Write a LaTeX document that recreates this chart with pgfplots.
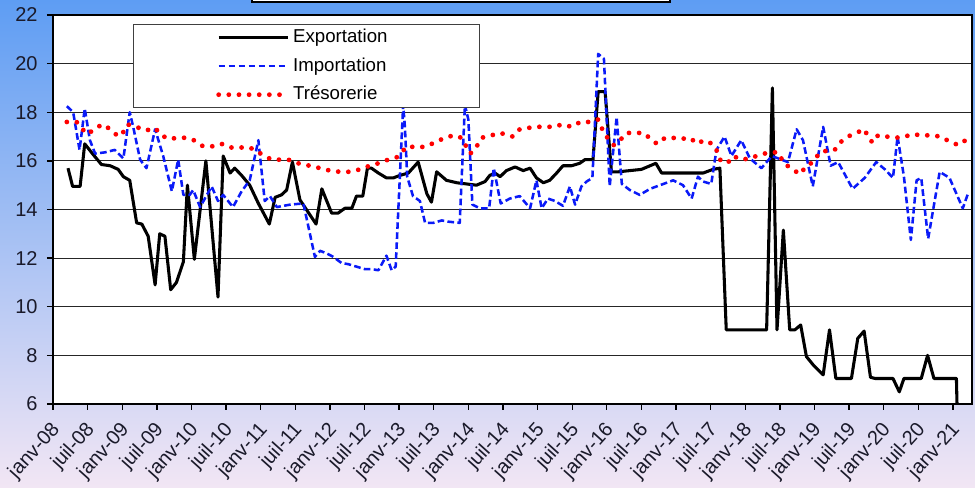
\documentclass[border=0pt]{standalone}
\usepackage{fontspec}
\setmainfont{Liberation Sans}
\usepackage{pgfplots}
\pgfplotsset{compat=1.18}
\definecolor{bgtop}{HTML}{5E9DF3}
\definecolor{bgbot}{HTML}{F2E6F4}
\definecolor{impblue}{HTML}{0A1AF8}
\definecolor{txt}{HTML}{1A1A2A}
\begin{document}
\begin{tikzpicture}
\path[use as bounding box] (0,0) rectangle (731.25pt,366pt);
\clip (0,0) rectangle (731.25pt,366pt);
\shade[top color=bgtop, bottom color=bgbot] (0,0) rectangle (731.25pt,366pt);
\draw[line width=1.5pt, fill=white] (189pt,364.5pt) rectangle (502.5pt,380pt);
\begin{axis}[
  at={(39.75pt,63pt)}, anchor=south west,
  scale only axis, width=689.25pt, height=291.75pt,
  xmin=0, xmax=159.3, ymin=6, ymax=22,
  axis background/.style={fill=white},
  axis line style={line width=1.5pt, black},
  tick pos=left, tick align=outside,
  major tick length=4.5pt,
  tick style={line width=1pt, black},
  ymajorgrids, major grid style={line width=0.9pt, black!85},
  ytick={6,8,...,22},
  xtick={0,6,...,156},
  xticklabels={janv-08,juil-08,janv-09,juil-09,janv-10,juil-10,janv-11,juil-11,janv-12,juil-12,janv-13,juil-13,janv-14,juil-14,janv-15,juil-15,janv-16,juil-16,janv-17,juil-17,janv-18,juil-18,janv-19,juil-19,janv-20,juil-20,janv-21},
  /pgf/number format/assume math mode=true,
  yticklabel style={font=\fontsize{15}{15}\selectfont, color=txt, xshift=-3.5pt},
  xticklabel style={xshift=5pt, yshift=-10pt, rotate=48, anchor=east, font=\fontsize{15}{15}\selectfont, color=txt},
  legend style={at={(rel axis cs:0.087,0.977)}, anchor=north west, draw=black!75, line width=1pt, fill=white,
    font=\fontsize{14}{14}\selectfont, inner xsep=62pt, inner ysep=3pt, row sep=7.9pt,
    nodes={inner ysep=0pt, text height=10.5pt, text depth=3pt}},
  legend cell align=left,
  legend image code/.code={\draw[#1] (0pt,0pt) -- (52pt,0pt);},
]
\addplot[black, line width=2.3pt, line join=round] coordinates {
(2.6,15.7) (3.4,14.95) (4.7,14.95) (5.5,16.7) (7,16.25) (8.4,15.85) (9.9,15.8) (11.3,15.65) (12.2,15.35) (13.3,15.2) (14.5,13.45) (15.4,13.4) (16.5,12.9) (17.7,10.9) (18.5,13.0) (19.4,12.9) (20.4,10.7) (21.4,11.0) (22.6,11.85) (23.3,15.0) (24.5,11.95) (26.5,16.0) (28.6,10.4) (29.5,16.2) (30.7,15.5) (31.5,15.7) (32.7,15.4) (34.1,15.0) (35.6,14.25) (37.5,13.4) (38.5,14.5) (39.6,14.6) (40.5,14.8) (41.5,15.95) (42.8,14.4) (44.2,13.9) (45.6,13.4) (46.6,14.85) (48.3,13.85) (49.4,13.85) (50.6,14.05) (51.8,14.05) (52.6,14.55) (53.7,14.55) (54.5,15.7) (55.2,15.7) (56.4,15.5) (57.8,15.3) (59,15.3) (60.1,15.4) (61.6,15.5) (63.3,15.95) (64.8,14.65) (65.6,14.3) (66.5,15.55) (68.2,15.2) (70,15.1) (71.7,15.05) (73.4,15.0) (74.9,15.15) (75.7,15.4) (76.6,15.5) (77.5,15.35) (78.6,15.6) (80.1,15.75) (81.5,15.6) (82.7,15.7) (83.8,15.3) (85,15.1) (86.1,15.2) (87.3,15.5) (88.4,15.8) (89.9,15.8) (91.3,15.9) (92.2,16.05) (93.6,16.05) (94.5,18.85) (95.7,18.85) (96.8,15.55) (98,15.55) (100,15.6) (102,15.65) (103.5,15.8) (104.5,15.9) (105.5,15.5) (112.7,15.5) (114.4,15.65) (115.6,15.7) (116.7,9.05) (123.7,9.05) (124.7,19.0) (125.5,9.05) (126.6,13.15) (127.7,9.05) (128.6,9.05) (129.6,9.25) (130.6,7.95) (131.8,7.6) (133.5,7.2) (134.6,9.05) (135.7,7.05) (138.4,7.05) (139.5,8.7) (140.6,9.0) (141.7,7.1) (142.5,7.05) (145.6,7.05) (146.7,6.5) (147.5,7.05) (150.5,7.05) (151.6,8.0) (152.7,7.05) (156.6,7.05) (156.7,6.0)
};
\addlegendentry{Exportation\hspace*{5pt}}
\addplot[impblue, line width=1.9pt, dash pattern=on 5pt off 2.5pt, line join=round] coordinates {
(2.4,18.25) (3.5,18.0) (4.6,16.45) (5.5,18.15) (6.4,16.85) (7.3,16.3) (9,16.35) (10.7,16.45) (12.2,16.1) (13.3,18.0) (13.9,17.4) (15.1,16.05) (16.2,15.7) (17.7,17.3) (19.1,16.2) (20.6,14.75) (21.7,16.05) (22.6,14.6) (23.7,14.6) (24.3,14.8) (25.5,14.1) (27.5,14.95) (28.6,14.35) (29.5,14.6) (31.2,14.1) (32.7,14.75) (34.1,15.2) (35.6,16.85) (36.7,14.35) (37.6,14.55) (38.8,14.1) (41.1,14.2) (43.4,14.25) (45.4,12.05) (46.3,12.3) (47.4,12.2) (48.6,12.05) (50,11.8) (51.2,11.75) (52.6,11.65) (54,11.55) (55.2,11.55) (56.4,11.5) (57.8,12.1) (58.7,11.5) (59.4,11.65) (60.7,18.3) (61,17.4) (61.4,15.35) (62.4,14.55) (63.6,14.35) (64.5,13.45) (65.9,13.45) (67.4,13.55) (68.5,13.5) (70.5,13.45) (71.4,18.3) (72,17.7) (72.7,14.2) (74,14.05) (75.6,14.05) (76.4,15.7) (77.6,14.25) (79.2,14.45) (80.9,14.55) (82.7,14.05) (83.8,15.2) (84.7,14.05) (85.8,14.45) (87,14.35) (88.4,14.15) (89.6,14.95) (90.5,14.2) (91.6,14.95) (92.5,15.15) (93.5,15.3) (94.5,20.4) (95.5,20.2) (96.5,14.95) (97.7,17.8) (98.6,15.05) (100,14.8) (101.7,14.6) (103.5,14.85) (105.8,15.05) (107.5,15.2) (109.2,15.0) (110.7,14.45) (111.8,15.35) (112.7,15.15) (114.1,15.05) (115,16.45) (116.4,17.0) (117.6,16.2) (119.3,16.85) (120.8,16.1) (122.8,15.7) (124.6,16.2) (127.4,15.95) (128.9,17.3) (130,16.85) (131.7,14.95) (133.5,17.4) (134.8,15.8) (136.1,15.95) (138.6,14.85) (140.7,15.3) (142.7,15.95) (144.2,15.65) (145.6,15.3) (146.4,17.0) (147.5,15.35) (148.7,12.75) (149.7,15.2) (150.5,15.3) (151.7,12.8) (153.7,15.55) (155.4,15.3) (157.7,14.05) (158.6,14.65)
};
\addlegendentry{Importation}
\addplot[red, line width=3.6pt, line cap=round, dash pattern=on 0pt off 7.6pt] coordinates {
(2.4,17.6) (4.1,17.6) (5.1,17.3) (6.1,17.1) (7.3,17.35) (8.7,17.5) (10.2,17.25) (11.3,17.0) (12.1,17.15) (12.9,17.5) (14.4,17.4) (16.1,17.25) (17.7,17.35) (18.8,17.05) (20.1,16.9) (21.7,16.95) (23.2,16.95) (24.4,16.85) (26,16.6) (27.7,16.6) (29.2,16.7) (30.7,16.55) (32.4,16.55) (34.1,16.55) (35.3,16.4) (36.7,16.2) (37.9,16.05) (39.3,16.05) (40.8,16.05) (42.5,15.9) (44.5,15.8) (46.3,15.7) (48,15.6) (49.7,15.55) (51.5,15.55) (53.2,15.65) (54.9,15.8) (56.4,15.9) (58.1,16.05) (59.6,16.15) (61.4,16.6) (63.3,16.55) (64.8,16.6) (66.5,16.8) (68,16.95) (69.4,17.05) (70.8,16.95) (72.3,16.3) (73.1,16.45) (74.3,16.95) (76,17.05) (77.5,17.15) (79.7,17.0) (80.9,17.3) (82.2,17.35) (83.8,17.4) (85.3,17.4) (86.8,17.4) (88.3,17.5) (89.9,17.4) (91.4,17.6) (93.1,17.6) (94.5,17.7) (95.3,17.25) (96.1,16.95) (97.2,16.65) (98.3,16.85) (99.4,17.15) (101,17.15) (102.4,17.15) (103.6,16.9) (104.7,16.7) (106.1,16.95) (107.4,16.95) (108.8,16.9) (110.4,16.95) (111.7,16.7) (112.8,16.85) (114.3,16.7) (115,16.45) (115.6,16.05) (116.9,15.9) (117.9,16.2) (119.3,16.05) (120.8,16.1) (122.5,16.25) (124.2,16.35) (125.7,16.35) (126.7,15.9) (128.2,15.65) (129.5,15.45) (130.6,15.8) (131.8,15.95) (132.9,16.35) (133.8,16.4) (135.5,16.45) (136.4,16.75) (137.8,17.0) (139.2,17.15) (140.7,17.3) (141.3,16.95) (142.1,16.75) (143,17.05) (144.5,17.0) (146.1,16.95) (147.7,17.0) (149,17.1) (150.5,17.05) (152.3,17.05) (153.8,17.0) (155.4,16.8) (156.9,16.65) (158.2,16.85)
};
\addlegendentry{Trésorerie}
\end{axis}
\end{tikzpicture}
\end{document}
